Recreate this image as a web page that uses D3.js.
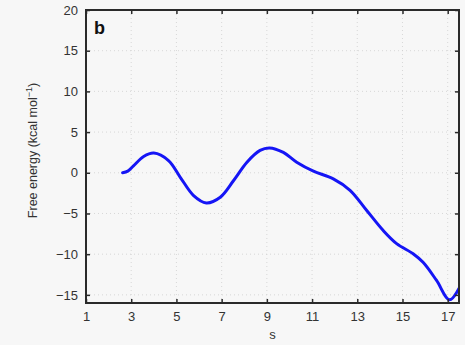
<!DOCTYPE html>
<html>
<head>
<meta charset="utf-8">
<script src="https://cdn.jsdelivr.net/npm/d3@7"></script>
<style>
  html, body { margin: 0; padding: 0; background: #f7f7f7; }
  svg { display: block; font-family: "Liberation Sans", Arial, sans-serif; }
</style>
</head>
<body>
<svg id="chart" width="465" height="345"></svg>
<script>
// Free energy profile along the path coordinate s
const sValues = [2.62, 2.85, 3.1, 3.55, 4.0, 4.65, 5.17, 5.76, 6.32, 6.94, 7.53, 8.12, 8.7, 9.12, 9.73, 10.32, 11.06, 11.94, 12.68, 13.41, 14.15, 14.74, 15.47, 15.91, 16.5, 17.08, 17.5];
const energyValues = [0.0, 0.2, 0.85, 2.0, 2.42, 1.5, -0.55, -2.8, -3.7, -3.0, -0.95, 1.3, 2.75, 3.05, 2.5, 1.3, 0.2, -0.75, -2.15, -4.6, -7.1, -8.7, -9.95, -11.0, -13.2, -15.6, -14.2];
const xTicks = [1, 3, 5, 7, 9, 11, 13, 15, 17];
const yTicks = [-15, -10, -5, 0, 5, 10, 15, 20];
const data = sValues.map((s, i) => ({ s, e: energyValues[i] }));

const margin = { left: 86, top: 10, right: 6, bottom: 42 };
const W = 465, H = 345;
const svg = d3.select("#chart");

const x = d3.scaleLinear().domain([1, 17.5]).range([margin.left, W - margin.right]);
const y = d3.scaleLinear().domain([-16, 20]).range([H - margin.bottom, margin.top]);

const x0 = x.range()[0], x1 = x.range()[1], y0 = y.range()[0], y1 = y.range()[1];

// dotted grid
const grid = svg.append("g").attr("stroke", "#cfcfcf").attr("stroke-width", 0.8).attr("stroke-dasharray", "1,3");
grid.selectAll(".gx").data(xTicks.slice(1)).join("line")
  .attr("x1", d => x(d)).attr("x2", d => x(d)).attr("y1", y1).attr("y2", y0);
grid.selectAll(".gy").data(yTicks).join("line")
  .attr("x1", x0).attr("x2", x1).attr("y1", d => y(d)).attr("y2", d => y(d));

// curve, clipped to plot area
svg.append("clipPath").attr("id", "clip").append("rect")
  .attr("x", x0).attr("y", y1).attr("width", x1 - x0).attr("height", y0 - y1);
const line = d3.line().x(d => x(d.s)).y(d => y(d.e)).curve(d3.curveCatmullRom.alpha(0.5));
svg.append("path").datum(data).attr("clip-path", "url(#clip)")
  .attr("fill", "none").attr("stroke", "#1515f5").attr("stroke-width", 3)
  .attr("stroke-linecap", "round").attr("stroke-linejoin", "round").attr("d", line);

// axes with inward ticks
const tickLen = 4;
const axisColor = "#2a2a2a";
const axisBottomG = svg.append("g").attr("transform", `translate(0,${y0})`)
  .call(d3.axisBottom(x).tickValues(xTicks).tickSize(-tickLen).tickPadding(9).tickFormat(d3.format("d")));
const axisTopG = svg.append("g").attr("transform", `translate(0,${y1})`)
  .call(d3.axisTop(x).tickValues(xTicks).tickSize(-tickLen).tickFormat(""));
const axisLeftG = svg.append("g").attr("transform", `translate(${x0},0)`)
  .call(d3.axisLeft(y).tickValues(yTicks).tickSize(-tickLen).tickPadding(8)
    .tickFormat(d => d < 0 ? "\u2212" + Math.abs(d) : d));
const axisRightG = svg.append("g").attr("transform", `translate(${x1},0)`)
  .call(d3.axisRight(y).tickValues(yTicks).tickSize(-tickLen).tickFormat(""));

[axisBottomG, axisTopG, axisLeftG, axisRightG].forEach(g => {
  g.select(".domain").remove();
  g.selectAll(".tick line").attr("stroke", axisColor).attr("stroke-width", 1.5);
  g.selectAll(".tick text").attr("fill", "#333").attr("font-size", 13)
    .attr("font-family", "Liberation Sans, Arial, sans-serif");
});

// frame
svg.append("rect").attr("x", x0).attr("y", y1).attr("width", x1 - x0).attr("height", y0 - y1)
  .attr("fill", "none").attr("stroke", axisColor).attr("stroke-width", 2);

// panel letter
svg.append("text").attr("x", x0 + 8).attr("y", y1 + 24)
  .attr("font-size", 18).attr("font-weight", "bold").attr("fill", "#111").text("b");

// axis titles
svg.append("text").attr("x", (x0 + x1) / 2).attr("y", 339).attr("text-anchor", "middle")
  .attr("font-size", 13).attr("fill", "#333").text("s");
const yt = svg.append("text").attr("transform", `translate(37,${(y0 + y1) / 2 - 6}) rotate(-90)`)
  .attr("text-anchor", "middle").attr("font-size", 12.5).attr("fill", "#333");
yt.append("tspan").text("Free energy (kcal mol");
yt.append("tspan").attr("dy", -5).attr("font-size", 9).text("\u22121");
yt.append("tspan").attr("dy", 5).text(")");
</script>
</body>
</html>
